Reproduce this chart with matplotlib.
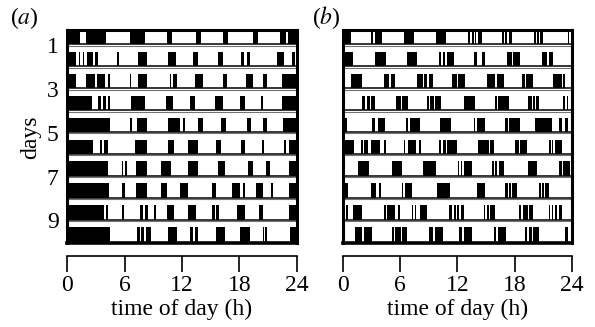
import matplotlib
matplotlib.use("Agg")
import matplotlib.pyplot as plt

plt.rcParams["font.family"] = ["Liberation Serif", "DejaVu Serif"]
plt.rcParams["mathtext.fontset"] = "stix"

# day rows shown, top to bottom
day_ticks = [1, 3, 5, 7, 9]
hour_ticks = [0, 6, 12, 18, 24]

# activity bouts (start h, end h) for each day, panel (a)
bouts_a = [
    [(0, 1.4), (2.0, 4.1), (6.55, 8.1), (10.4, 11.0), (13.45, 13.95), (16.3, 16.8), (19.45, 19.95), (22.2, 22.9), (23.1, 24)],
    [(0, 0.9), (1.2, 1.4), (1.65, 1.8), (2.1, 2.7), (2.9, 3.2), (5.25, 5.45), (7.4, 8.35), (10.55, 11.35), (13.15, 13.7),
     (15.8, 16.25), (18.2, 18.45), (18.75, 19.1), (21.9, 22.6), (23.45, 23.8)],
    [(0, 0.9), (2.0, 2.9), (3.1, 4.0), (4.3, 4.5), (6.55, 6.7), (7.4, 8.35), (10.75, 10.9), (11.1, 11.45), (13.35, 14.2),
     (16.3, 16.65), (18.7, 19.45), (20.4, 20.9), (22.4, 24)],
    [(0, 2.6), (3.2, 3.5), (3.8, 4.1), (4.3, 4.45), (6.7, 8.1), (10.3, 11.1), (12.8, 13.35), (15.45, 16.3), (18.05, 18.55),
     (20.2, 20.5), (22.4, 24)],
    [(0, 4.5), (6.55, 6.8), (7.3, 8.35), (10.55, 11.8), (12.1, 12.3), (13.7, 14.2), (16.1, 16.6), (18.75, 19.15),
     (20.4, 20.9), (22.5, 24)],
    [(0, 2.7), (3.4, 3.7), (3.9, 4.3), (7.05, 8.35), (10.55, 11.15), (12.65, 13.7), (15.6, 16.1), (18.2, 18.55),
     (20.3, 20.6), (22.6, 22.9), (23.2, 24)],
    [(0, 4.3), (5.7, 5.85), (6.1, 6.25), (7.25, 8.35), (9.85, 10.9), (12.65, 13.7), (15.8, 16.5), (18.9, 19.45),
     (20.8, 21.2), (23.2, 24)],
    [(0, 4.4), (5.7, 6.0), (7.25, 8.35), (9.85, 10.4), (11.8, 12.65), (15.1, 15.6), (17.2, 18.05), (18.4, 18.55),
     (19.7, 20.5), (21.3, 21.45), (23.2, 24)],
    [(0, 3.9), (4.1, 4.3), (5.7, 5.9), (7.6, 7.95), (8.1, 8.45), (9.05, 9.25), (10.4, 11.15), (12.65, 13.5), (15.1, 15.45),
     (15.6, 15.9), (17.7, 18.55), (20.0, 20.4), (23.2, 24)],
    [(0, 4.5), (7.3, 7.6), (7.75, 8.0), (8.2, 8.8), (10.55, 11.45), (12.8, 13.15), (13.35, 13.7), (15.6, 16.5),
     (18.05, 19.1), (20.4, 20.6), (20.7, 20.85), (23.3, 24)],
]

# activity bouts (start h, end h) for each day, panel (b)
bouts_b = [
    [(0, 0.8), (2.9, 3.1), (3.35, 4.1), (6.4, 7.4), (9.7, 10.75), (13.15, 13.35), (13.5, 13.7), (13.8, 13.95),
     (14.15, 14.55), (16.65, 16.85), (17.0, 17.2), (17.35, 17.7), (20.05, 20.25), (20.3, 20.55), (20.65, 21.0),
     (23.55, 23.7), (23.85, 24)],
    [(0, 1.0), (3.4, 4.5), (6.7, 7.75), (10.1, 10.3), (10.45, 10.65), (10.9, 11.6), (13.7, 14.05), (14.55, 14.9),
     (17.2, 17.7), (17.85, 18.55), (20.85, 21.35), (21.55, 22.05)],
    [(0.8, 2.0), (4.3, 4.8), (5.0, 5.5), (7.75, 8.35), (8.45, 8.8), (9.0, 9.4), (11.45, 11.95), (12.05, 12.8),
     (15.1, 15.9), (16.15, 16.85), (18.8, 19.1), (19.15, 19.95), (22.05, 22.95), (23.1, 23.3)],
    [(2.0, 2.3), (2.5, 2.8), (2.9, 3.4), (5.6, 6.1), (6.2, 6.85), (8.8, 9.05), (9.15, 9.5), (9.6, 10.3), (12.65, 13.85),
     (15.9, 16.1), (16.25, 17.35), (19.35, 19.8), (19.95, 20.15), (20.25, 20.55), (23.1, 23.3), (23.45, 23.6)],
    [(0, 0.4), (3.0, 3.4), (3.7, 4.4), (6.6, 6.85), (7.05, 8.1), (10.2, 11.35), (13.7, 13.85), (14.05, 14.9),
     (17.0, 17.3), (17.4, 18.55), (20.15, 21.9), (22.65, 22.95), (23.3, 23.55)],
    [(0, 1.2), (1.9, 2.1), (2.2, 2.6), (2.9, 3.9), (4.3, 4.5), (6.4, 6.55), (6.85, 7.0), (7.05, 7.6), (8.0, 8.2),
     (10.1, 10.3), (10.45, 10.75), (10.9, 11.95), (14.15, 15.25), (15.45, 15.8), (18.05, 18.4), (18.5, 19.25),
     (21.55, 21.8), (21.95, 22.05), (22.25, 23.0)],
    [(1.6, 2.7), (5.1, 6.2), (8.35, 9.75), (12.05, 12.2), (12.35, 12.5), (12.65, 13.5), (15.6, 15.8), (15.95, 16.15),
     (16.3, 16.85), (19.35, 20.3), (22.65, 22.95), (23.1, 23.8)],
    [(0, 0.5), (2.9, 3.5), (3.8, 4.0), (6.15, 6.3), (6.55, 7.25), (9.85, 11.25), (14.05, 14.85), (16.95, 17.3),
     (17.4, 17.65), (17.75, 18.2), (20.55, 20.75), (20.9, 21.1), (21.2, 21.55)],
    [(0.3, 0.5), (1.0, 2.0), (4.3, 4.5), (4.6, 5.5), (5.8, 5.95), (7.2, 7.35), (7.55, 7.7), (8.1, 8.8), (11.15, 11.45),
     (11.6, 11.8), (11.95, 12.2), (12.4, 12.65), (14.75, 14.9), (15.1, 15.35), (15.45, 15.9), (18.45, 18.7),
     (18.9, 19.35), (19.5, 19.95), (21.55, 21.7), (21.9, 22.05), (22.25, 22.4), (22.6, 23.0)],
    [(1.3, 2.0), (2.2, 3.0), (5.1, 5.35), (5.5, 6.05), (6.2, 6.7), (9.05, 9.4), (9.6, 10.45), (12.2, 12.45),
     (12.65, 13.1), (13.15, 13.5), (15.8, 16.05), (16.25, 17.05), (19.1, 19.3), (19.45, 19.8), (19.95, 20.55),
     (23.3, 23.6)],
]

BAR_TOP = 0.28   # offset of bar top inside a day row
BAR_BOT = 0.94   # offset of baseline inside a day row
FS = 17


def draw_actogram(ax, bouts, show_days):
    n = len(bouts)
    for i, day in enumerate(bouts):
        spans = [(s, e - s) for s, e in day]
        ax.broken_barh(spans, (i + BAR_TOP, BAR_BOT - BAR_TOP),
                       facecolors="black", edgecolor="none", linewidth=0)
        if i < n - 1:
            ax.axhline(i + BAR_BOT, color="black", lw=1.1)
            ax.axhline(i + 1, color="0.45", lw=0.8)
    ax.axhline(n, color="black", lw=2.6, clip_on=False)

    ax.set_xlim(0, 24)
    ax.set_ylim(n, BAR_TOP)

    for side in ["left", "right", "top"]:
        ax.spines[side].set_linewidth(2.2)
    ax.spines["bottom"].set_position(("outward", 9.4))
    ax.spines["bottom"].set_bounds(0, 24)
    ax.spines["bottom"].set_linewidth(1.2)

    ax.set_xticks(hour_ticks)
    ax.set_xticklabels([str(h) for h in hour_ticks])
    ax.tick_params(axis="x", direction="out", length=11.5, width=1.2, pad=2, labelsize=FS)
    ax.set_xlabel("time of day (h)", fontsize=FS, labelpad=2)

    if show_days:
        ax.set_yticks([d - 0.03 for d in day_ticks])
        ax.set_yticklabels([str(d) for d in day_ticks])
        ax.tick_params(axis="y", length=0, pad=6, labelsize=FS)
    else:
        ax.set_yticks([])


fig = plt.figure(figsize=(5.95, 3.27), dpi=100)
W, H = 595, 327

ax_a = fig.add_axes([67 / W, 1 - 243 / H, 230 / W, 213 / H])
ax_b = fig.add_axes([343 / W, 1 - 243 / H, 229 / W, 213 / H])

draw_actogram(ax_a, bouts_a, True)
draw_actogram(ax_b, bouts_b, False)

fig.text(31 / W, 1 - 137 / H, "days", rotation=90, ha="center", va="center", fontsize=FS)
fig.text(24 / W, 1 - 18 / H, r"($a$)", ha="center", va="center", fontsize=FS)
fig.text(326 / W, 1 - 18 / H, r"($b$)", ha="center", va="center", fontsize=FS)

fig.savefig("out.png", dpi=100)
plt.close(fig)
